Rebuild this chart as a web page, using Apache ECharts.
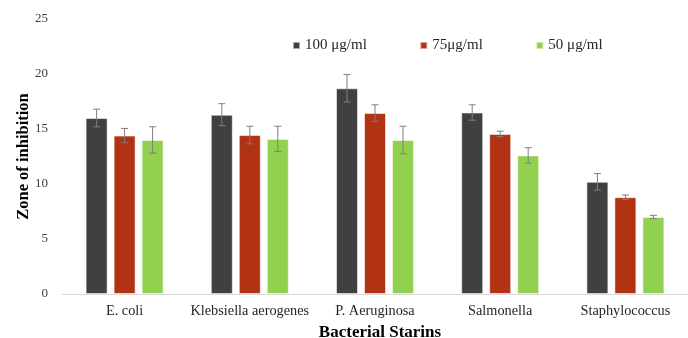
<!DOCTYPE html>
<html>
<head>
<meta charset="utf-8">
<script src="https://cdn.jsdelivr.net/npm/echarts@6/dist/echarts.min.js"></script>
<style>
  html, body { margin: 0; padding: 0; background: #fff; }
  #chart { width: 688px; height: 338px; }
</style>
</head>
<body>
<div id="chart"></div>
<script>
// Bacterial strains tested
const categories = ['E. coli', 'Klebsiella aerogenes', 'P. Aeruginosa', 'Salmonella', 'Staphylococcus'];
const seriesNames = ['100 μg/ml', '75μg/ml', '50 μg/ml'];

// Mean zone of inhibition per concentration
const conc100 = [16.0, 16.3, 18.7, 16.5, 10.2];
const conc75 = [14.4, 14.45, 16.45, 14.55, 8.8];
const conc50 = [14.0, 14.1, 14.0, 12.6, 7.0];

// Error (± deviation) per concentration
const err100 = [0.8, 1.0, 1.25, 0.7, 0.75];
const err75 = [0.65, 0.8, 0.75, 0.25, 0.2];
const err50 = [1.2, 1.15, 1.25, 0.7, 0.15];

const yTicks = [0, 5, 10, 15, 20, 25];

const colors = ['#404040', '#B23214', '#92D050'];
const means = [conc100, conc75, conc50];
const errs = [err100, err75, err50];

const BAR_W = 22;
const BAR_STEP = 28; // bar width + gap between bars in a group

const chart = echarts.init(document.getElementById('chart'));
const serif = "'Liberation Serif', 'Times New Roman', serif";

const barSeries = means.map((vals, i) => ({
  name: seriesNames[i],
  type: 'bar',
  data: vals,
  barWidth: BAR_W,
  barGap: (100 * (BAR_STEP - BAR_W) / BAR_W).toFixed(2) + '%',
  itemStyle: { color: colors[i], borderColor: 'rgba(255,255,255,0.55)', borderWidth: 1 },
  emphasis: { disabled: true },
  z: 2
}));

const errorSeries = means.map((vals, i) => ({
  type: 'custom',
  name: seriesNames[i] + ' error',
  data: vals.map((v, k) => [k, v - errs[i][k], v + errs[i][k]]),
  z: 5,
  silent: true,
  renderItem: function (params, api) {
    const k = api.value(0);
    const lo = api.coord([k, api.value(1)]);
    const hi = api.coord([k, api.value(2)]);
    const x = lo[0] + (i - 1) * BAR_STEP;
    const cap = 3.5;
    const style = { stroke: '#7f7f7f', lineWidth: 1 };
    return {
      type: 'group',
      children: [
        { type: 'line', shape: { x1: x, y1: hi[1], x2: x, y2: lo[1] }, style: style },
        { type: 'line', shape: { x1: x - cap, y1: hi[1], x2: x + cap, y2: hi[1] }, style: style },
        { type: 'line', shape: { x1: x - cap, y1: lo[1], x2: x + cap, y2: lo[1] }, style: style }
      ]
    };
  }
}));

chart.setOption({
  animation: false,
  backgroundColor: '#fff',
  textStyle: { fontFamily: serif },
  legend: {
    data: seriesNames,
    left: 292,
    top: 38,
    padding: 0,
    itemWidth: 7,
    itemHeight: 7,
    itemGap: 52.5,
    icon: 'rect',
    textStyle: { fontFamily: serif, fontSize: 15, color: '#262626' }
  },
  grid: { left: 62, right: 0, top: 19, bottom: 44, containLabel: false, outerBoundsMode: 'none' },
  xAxis: {
    type: 'category',
    data: categories,
    axisLine: { lineStyle: { color: '#d9d9d9', width: 1 } },
    axisTick: { show: false },
    axisLabel: { interval: 0, fontFamily: serif, fontSize: 14.3, color: '#262626', margin: 10 },
    name: 'Bacterial Starins',
    nameLocation: 'middle',
    nameGap: 30,
    nameMoveOverlap: false,
    nameTextStyle: { fontFamily: serif, fontSize: 17, fontWeight: 'bold', color: '#000', padding: [0, 0, 0, 10] }
  },
  yAxis: {
    type: 'value',
    min: yTicks[0],
    max: yTicks[yTicks.length - 1],
    interval: yTicks[1] - yTicks[0],
    splitLine: { show: false },
    axisLine: { show: false },
    axisTick: { show: false },
    axisLabel: { fontFamily: serif, fontSize: 13, color: '#404040', margin: 14 },
    name: 'Zone of inhibition',
    nameLocation: 'middle',
    nameGap: 30,
    nameMoveOverlap: false,
    nameTextStyle: { fontFamily: serif, fontSize: 16.5, fontWeight: 'bold', color: '#000' }
  },
  series: barSeries.concat(errorSeries)
});
</script>
</body>
</html>
